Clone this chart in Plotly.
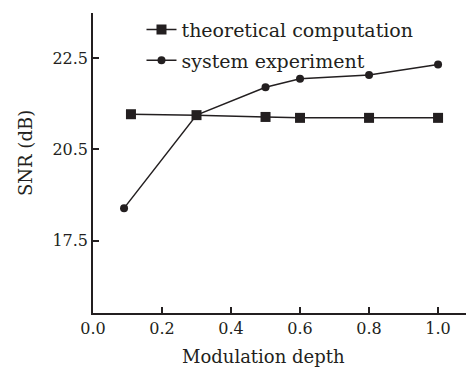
import plotly.graph_objects as go

# Data
theo_x = [0.11, 0.3, 0.5, 0.6, 0.8, 1.0]
theo_y = [21.27, 21.25, 21.21, 21.19, 21.19, 21.19]
exp_x = [0.09, 0.3, 0.5, 0.6, 0.8, 1.0]
exp_y = [19.21, 21.25, 21.86, 22.05, 22.13, 22.36]

x_ticks = [0.0, 0.2, 0.4, 0.6, 0.8, 1.0]
x_ticktext = ["0.0", "0.2", "0.4", "0.6", "0.8", "1.0"]
y_ticks = [18.5, 20.5, 22.5]
y_ticktext = ["17.5", "20.5", "22.5"]

INK = "#231f20"
FONT = "DejaVu Serif"

fig = go.Figure()
fig.add_trace(go.Scatter(
    x=theo_x, y=theo_y, mode="lines+markers", name="theoretical computation",
    legendgroup="a",
    line=dict(color=INK, width=1.5),
    marker=dict(symbol="square", size=10, color=INK),
))
fig.add_trace(go.Scatter(
    x=exp_x, y=exp_y, mode="lines+markers", name="system experiment",
    legendgroup="b",
    line=dict(color=INK, width=1.5),
    marker=dict(symbol="circle", size=8, color=INK),
))

fig.update_layout(
    width=466, height=367,
    margin=dict(l=93, r=0, t=13, b=54),
    paper_bgcolor="white", plot_bgcolor="white",
    font=dict(family=FONT, size=16, color=INK),
    showlegend=True,
    legend=dict(
        x=0.13, y=1.008, xanchor="left", yanchor="top",
        bgcolor="rgba(0,0,0,0)", font=dict(family=FONT, size=19, color=INK),
        tracegroupgap=3, itemwidth=30,
    ),
    xaxis=dict(
        range=[0, 1.081], tickvals=x_ticks, ticktext=x_ticktext,
        showgrid=False, zeroline=False, showline=True, linecolor=INK, linewidth=1.5,
        ticks="inside", ticklen=6, tickwidth=1.5, tickcolor=INK,
        tickfont=dict(family=FONT, size=16, color=INK),
    ),
    yaxis=dict(
        range=[16.91, 23.49], tickvals=y_ticks, ticktext=y_ticktext,
        showgrid=False, zeroline=False, showline=True, linecolor=INK, linewidth=1.5,
        ticks="inside", ticklen=6, tickwidth=1.5, tickcolor=INK,
        tickfont=dict(family=FONT, size=16, color=INK),
    ),
    annotations=[
        dict(text="Modulation depth", x=263, y=356, xref="paper", yref="paper",
             xanchor="center", yanchor="middle",
             showarrow=False, font=dict(family=FONT, size=18, color=INK)),
        dict(text="SNR (dB)", x=25, y=153, xref="paper", yref="paper",
             xanchor="center", yanchor="middle",
             showarrow=False, textangle=-90, font=dict(family=FONT, size=18, color=INK)),
    ],
)

# convert pixel annotation positions to paper coords
pw = 466 - 93
ph = 367 - 13 - 54
for a in fig.layout.annotations:
    a.x = (a.x - 93) / pw
    a.y = (367 - 54 - a.y) / ph

fig.write_html("out.html")
